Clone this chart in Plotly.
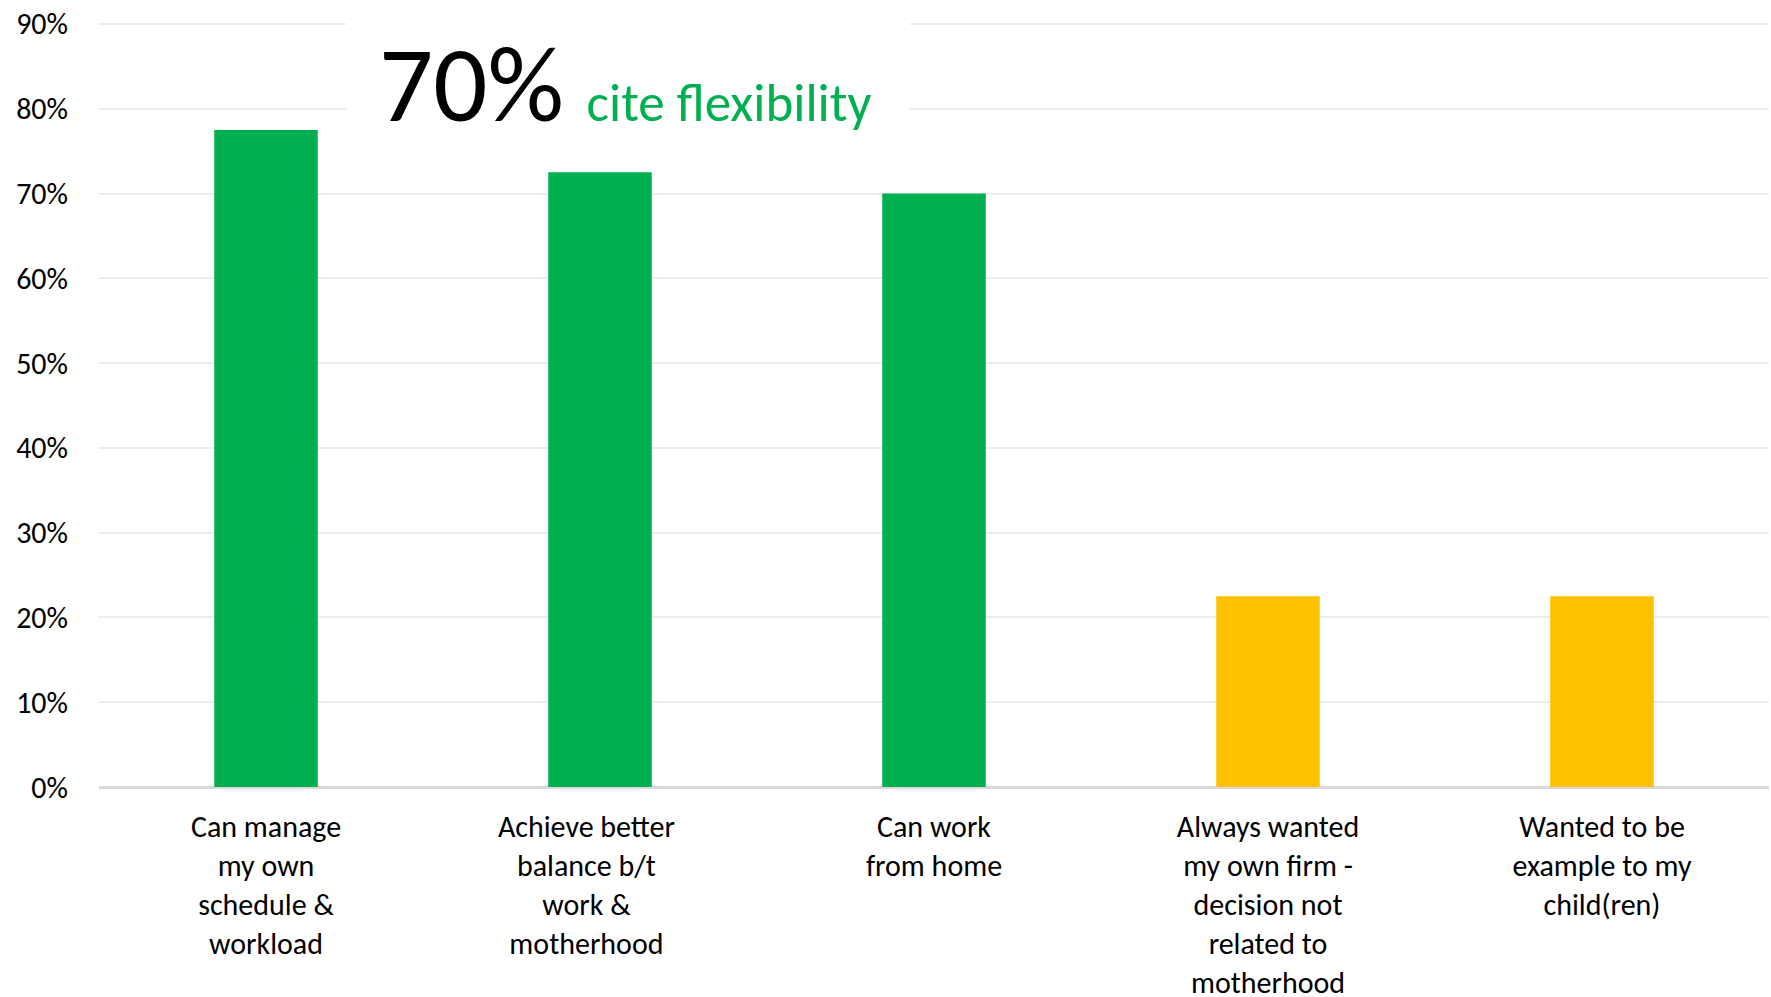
import plotly.graph_objects as go

NB = "\u00a0"

categories = [
    "Can manage<br>my own<br>schedule &<br>workload",
    "Achieve better" + NB * 4 + "<br>balance b/t" + NB * 4 + "<br>work &" + NB * 4 + "<br>motherhood" + NB * 4,
    "Can work<br>from home",
    "Always wanted<br>my own firm -<br>decision not<br>related to<br>motherhood",
    "Wanted to be<br>example to my<br>child(ren)",
]
values = [0.775, 0.725, 0.70, 0.225, 0.225]
bar_colors = ["#00B050", "#00B050", "#00B050", "#FFC000", "#FFC000"]

headline_number = "70%"
headline_text = "cite flexibility"

FONT = "Calibri, Carlito, Lato, sans-serif"

fig = go.Figure(
    go.Bar(
        x=categories,
        y=values,
        marker=dict(color=bar_colors, line=dict(width=0)),
        width=0.31,
        hoverinfo="skip",
    )
)

fig.update_layout(
    width=1771,
    height=997,
    margin=dict(l=99, r=2, t=21, b=210, autoexpand=False),
    plot_bgcolor="white",
    paper_bgcolor="white",
    showlegend=False,
    font=dict(family=FONT, color="#000000"),
)

fig.update_yaxes(
    range=[0, 0.9035],
    tickvals=[0, 0.1, 0.2, 0.3, 0.4, 0.5, 0.6, 0.7, 0.8, 0.9],
    tickformat=".0%",
    showgrid=True,
    gridcolor="#EDEDED",
    gridwidth=2,
    zeroline=True,
    zerolinecolor="#D9D9D9",
    zerolinewidth=3,
    showline=False,
    ticks="",
    ticklabelstandoff=30,
    automargin=False,
    tickfont=dict(size=30, family=FONT, color="#000000"),
)

fig.update_xaxes(
    showgrid=False,
    showline=False,
    ticks="",
    ticklabelstandoff=19,
    automargin=False,
    tickfont=dict(size=30, family=FONT, color="#000000"),
)

# white panel behind the headline (hides gridlines)
fig.add_shape(
    type="rect",
    xref="paper",
    yref="paper",
    x0=0.1479,
    x1=0.4856,
    y0=0.8316,
    y1=1.05,
    fillcolor="white",
    line=dict(width=0),
    layer="above",
)

fig.add_annotation(
    xref="paper",
    yref="paper",
    x=0.1671,
    y=1.0235,
    xanchor="left",
    yanchor="top",
    align="left",
    valign="middle",
    showarrow=False,
    borderpad=0,
    text=(
        "<span style='font-size:107px;color:#000000'>" + headline_number + "</span>"
        "<span style='font-size:50px'>" + NB + NB + "</span>"
        "<span style='font-size:53px;color:#00B050'>" + headline_text + "</span>"
    ),
    font=dict(family=FONT, size=53, color="#000000"),
    width=540,
    height=160,
)

fig.write_html(
    "out.html",
    config={"displayModeBar": False},
    post_script="document.body.style.margin='0';document.body.style.overflow='hidden';",
)
